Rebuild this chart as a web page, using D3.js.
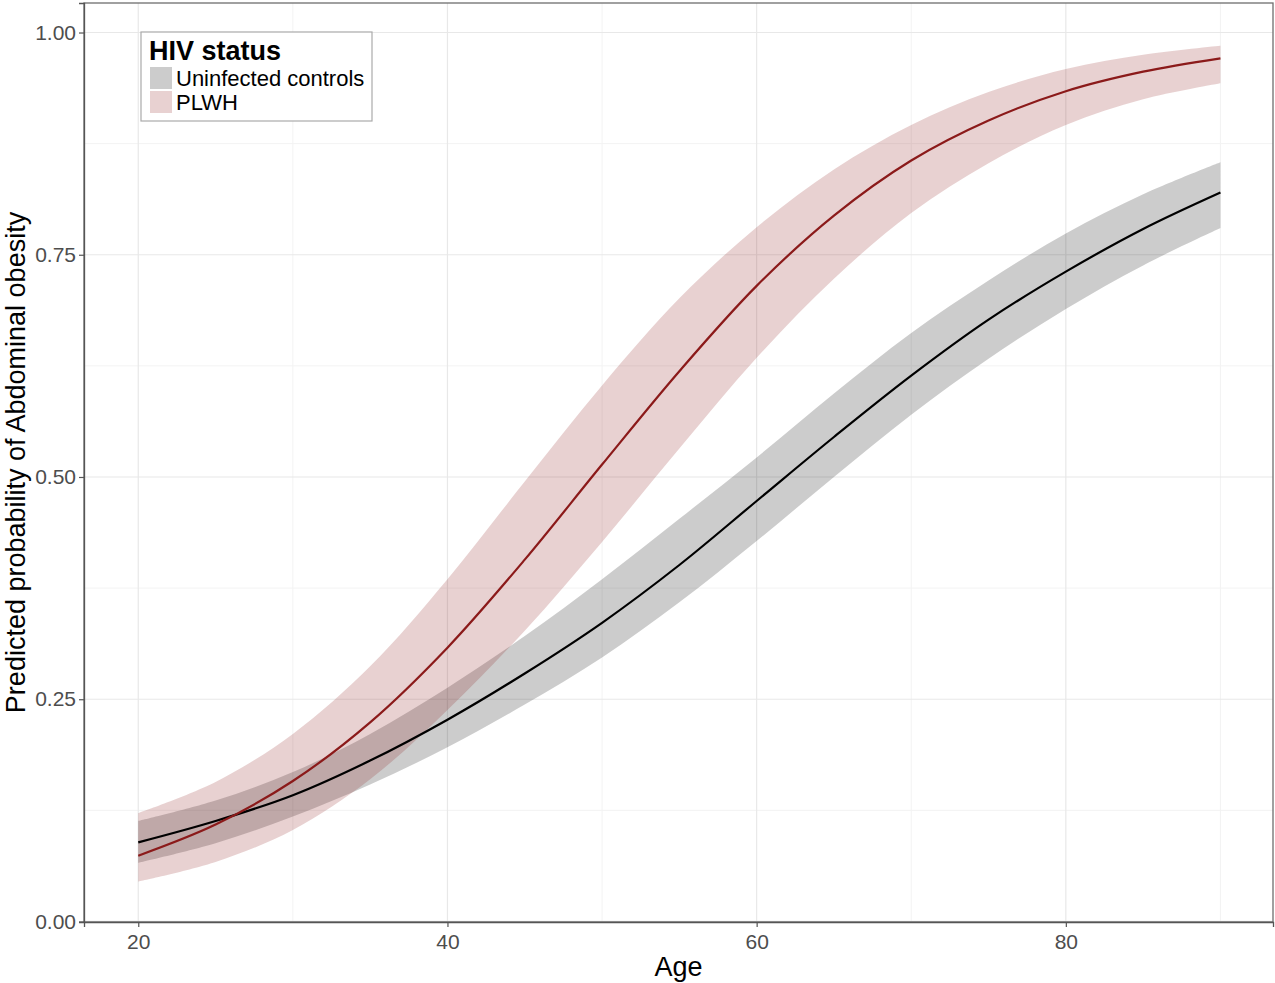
<!DOCTYPE html>
<html>
<head>
<meta charset="utf-8">
<script src="https://cdn.jsdelivr.net/npm/d3@7"></script>
<style>
body { margin: 0; background: #fff; }
text { font-family: "Liberation Sans", Arial, sans-serif; }
</style>
</head>
<body>
<svg id="chart"></svg>
<script>
// ages at which the predicted curves were read
var ages = [20, 25, 30, 35, 40, 45, 50, 55, 60, 65, 70, 75, 80, 85, 90];

// Uninfected controls
var ctrlFit   = [0.089, 0.113, 0.142, 0.181, 0.227, 0.279, 0.336, 0.401, 0.473, 0.545, 0.614, 0.677, 0.731, 0.779, 0.820];
var ctrlLower = [0.066, 0.088, 0.118, 0.154, 0.196, 0.244, 0.297, 0.359, 0.428, 0.500, 0.570, 0.633, 0.689, 0.738, 0.780];
var ctrlUpper = [0.113, 0.136, 0.168, 0.211, 0.263, 0.321, 0.385, 0.453, 0.522, 0.594, 0.662, 0.721, 0.774, 0.818, 0.854];

// PLWH
var plwhFit   = [0.074, 0.109, 0.158, 0.224, 0.308, 0.407, 0.514, 0.619, 0.715, 0.794, 0.856, 0.901, 0.934, 0.956, 0.971];
var plwhLower = [0.045, 0.067, 0.103, 0.160, 0.238, 0.327, 0.427, 0.532, 0.634, 0.723, 0.797, 0.853, 0.896, 0.925, 0.943];
var plwhUpper = [0.122, 0.157, 0.211, 0.287, 0.385, 0.495, 0.603, 0.701, 0.781, 0.846, 0.896, 0.933, 0.959, 0.975, 0.985];

var groups = ["Uninfected controls", "PLWH"];
var xTicks = [20, 40, 60, 80];
var xMinor = [30, 50, 70, 90];
var yTicks = [0, 0.25, 0.5, 0.75, 1];
var yMinor = [0.125, 0.375, 0.625, 0.875];

var width = 1275,
    height = 983;
var margin = {top: 3, right: 2, bottom: 61, left: 84};

var svg = d3.select("#chart")
  .attr("width", width)
  .attr("height", height);

var x = d3.scaleLinear()
  .domain([16.49, 93.4])
  .range([margin.left, width - margin.right]);

var y = d3.scaleLinear()
  .domain([-0.0006, 1.0332])
  .range([height - margin.bottom, margin.top]);

var bandColor = d3.scaleOrdinal().domain(groups).range(["rgba(0,0,0,0.2)", "rgba(139,26,26,0.2)"]);
var lineColor = d3.scaleOrdinal().domain(groups).range(["#000000", "#8B1A1A"]);
var keyColor = d3.scaleOrdinal().domain(groups).range(["#cccccc", "#e8d1d1"]);

// grid
var grid = svg.append("g");
grid.selectAll(".xminor").data(xMinor).enter().append("line")
  .attr("x1", function(d) { return x(d); }).attr("x2", function(d) { return x(d); })
  .attr("y1", margin.top).attr("y2", height - margin.bottom)
  .attr("stroke", "#f3f3f3").attr("stroke-width", 1);
grid.selectAll(".yminor").data(yMinor).enter().append("line")
  .attr("y1", function(d) { return y(d); }).attr("y2", function(d) { return y(d); })
  .attr("x1", margin.left).attr("x2", width - margin.right)
  .attr("stroke", "#f3f3f3").attr("stroke-width", 1);
grid.selectAll(".xmajor").data(xTicks).enter().append("line")
  .attr("x1", function(d) { return x(d); }).attr("x2", function(d) { return x(d); })
  .attr("y1", margin.top).attr("y2", height - margin.bottom)
  .attr("stroke", "#e8e8e8").attr("stroke-width", 1.2);
grid.selectAll(".ymajor").data(yTicks).enter().append("line")
  .attr("y1", function(d) { return y(d); }).attr("y2", function(d) { return y(d); })
  .attr("x1", margin.left).attr("x2", width - margin.right)
  .attr("stroke", "#e8e8e8").attr("stroke-width", 1.2);

var series = [
  {name: groups[0], fit: ctrlFit, lo: ctrlLower, hi: ctrlUpper},
  {name: groups[1], fit: plwhFit, lo: plwhLower, hi: plwhUpper}
];

var area = d3.area()
  .curve(d3.curveCatmullRom)
  .x(function(d) { return x(d.age); })
  .y0(function(d) { return y(d.lo); })
  .y1(function(d) { return y(d.hi); });

var line = d3.line()
  .curve(d3.curveCatmullRom)
  .x(function(d) { return x(d.age); })
  .y(function(d) { return y(d.fit); });

function rows(s) {
  return ages.map(function(a, i) { return {age: a, fit: s.fit[i], lo: s.lo[i], hi: s.hi[i]}; });
}

svg.append("g").selectAll("path").data(series).enter().append("path")
  .attr("d", function(s) { return area(rows(s)); })
  .attr("fill", function(s) { return bandColor(s.name); });

svg.append("g").selectAll("path").data(series).enter().append("path")
  .attr("d", function(s) { return line(rows(s)); })
  .attr("fill", "none")
  .attr("stroke", function(s) { return lineColor(s.name); })
  .attr("stroke-width", 2.2);

// panel border
svg.append("rect")
  .attr("x", margin.left).attr("y", margin.top)
  .attr("width", width - margin.right - margin.left)
  .attr("height", height - margin.bottom - margin.top)
  .attr("fill", "none").attr("stroke", "#6e6e6e").attr("stroke-width", 1.3);

// axes
var xAxis = svg.append("g")
  .attr("transform", "translate(0," + (height - margin.bottom) + ")")
  .call(d3.axisBottom(x).tickValues(xTicks).tickSize(5).tickPadding(7));
var yAxis = svg.append("g")
  .attr("transform", "translate(" + margin.left + ",0)")
  .call(d3.axisLeft(y).tickValues(yTicks).tickFormat(d3.format(".2f")).tickSize(5).tickPadding(3));

[xAxis, yAxis].forEach(function(ax) {
  ax.select(".domain").attr("stroke", "#555").attr("stroke-width", 1.3);
  ax.selectAll(".tick line").attr("stroke", "#555").attr("stroke-width", 1.2);
  ax.selectAll(".tick text").attr("fill", "#4d4d4d").style("font-size", "21px")
    .style("font-family", "'Liberation Sans', Arial, sans-serif");
});

svg.append("text")
  .attr("x", (margin.left + width - margin.right) / 2)
  .attr("y", 976)
  .attr("text-anchor", "middle")
  .style("font-size", "27px")
  .text("Age");

svg.append("text")
  .attr("transform", "translate(25," + ((margin.top + height - margin.bottom) / 2) + ") rotate(-90)")
  .attr("text-anchor", "middle")
  .style("font-size", "27px")
  .text("Predicted probability of Abdominal obesity");

// legend
var legend = svg.append("g").attr("transform", "translate(141,32)");
legend.append("rect")
  .attr("width", 231).attr("height", 89)
  .attr("fill", "#fff").attr("stroke", "#aaa").attr("stroke-width", 1.2);
legend.append("text")
  .attr("x", 8).attr("y", 28)
  .style("font-size", "27px").style("font-weight", "bold")
  .text("HIV status");
var item = legend.selectAll(".item").data(groups).enter().append("g")
  .attr("transform", function(d, i) { return "translate(9," + (35 + i * 24) + ")"; });
item.append("rect")
  .attr("width", 22).attr("height", 22)
  .attr("fill", function(d) { return keyColor(d); });
item.append("text")
  .attr("x", 26).attr("y", 19)
  .style("font-size", "22px")
  .text(function(d) { return d; });
</script>
</body>
</html>
